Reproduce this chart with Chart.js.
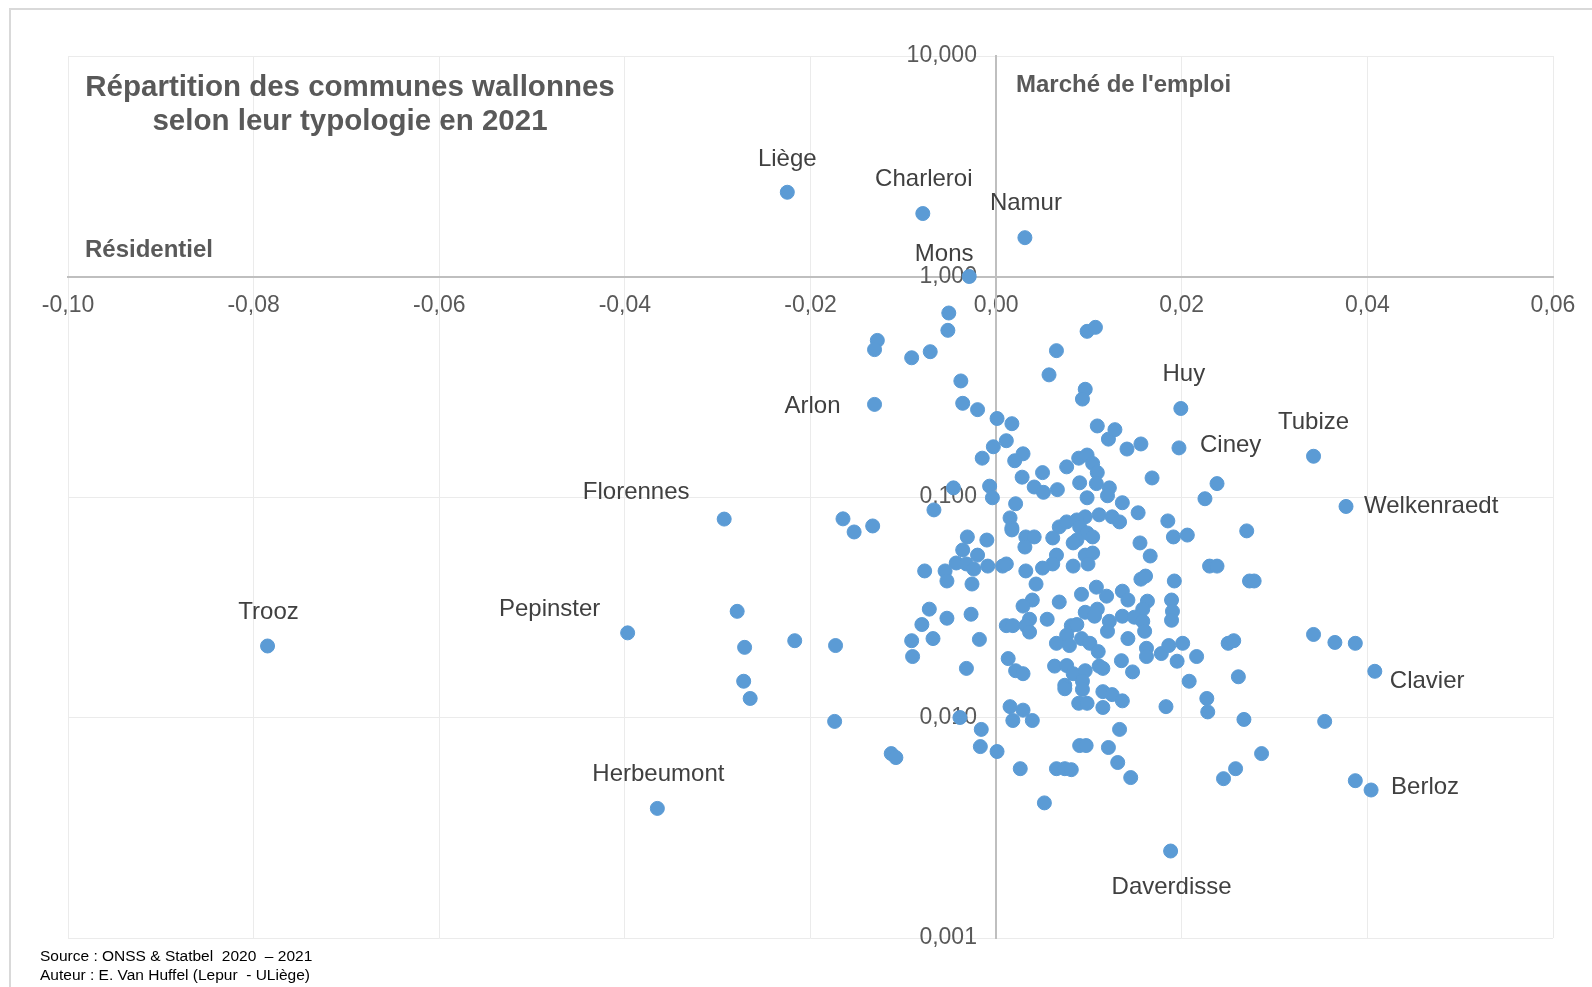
<!DOCTYPE html>
<html lang="fr">
<head>
<meta charset="utf-8">
<title>Répartition des communes wallonnes</title>
<script src="https://cdn.jsdelivr.net/npm/chart.js@4.4.1/dist/chart.umd.min.js"></script>
<style>
  html, body { margin: 0; padding: 0; background: #fff; }
  #wrap { position: relative; width: 1592px; height: 987px; }
</style>
</head>
<body>
<div id="wrap"><canvas id="chart-area"></canvas></div>
<script>
// communes nommées sur le graphique
var villes = ['Liège', 'Charleroi', 'Namur', 'Mons', 'Arlon', 'Huy', 'Ciney', 'Tubize',
    'Welkenraedt', 'Florennes', 'Trooz', 'Pepinster', 'Clavier', 'Berloz', 'Herbeumont', 'Daverdisse'];
var villesX = [-0.0225, -0.0079, 0.0031, -0.0029, -0.0131, 0.0199, 0.0197, 0.0342,
    0.0377, -0.0293, -0.0785, -0.0397, 0.0408, 0.0404, -0.0365, 0.0188];
var villesY = [2.41, 1.93, 1.50, 1.00, 0.263, 0.252, 0.167, 0.153,
    0.0906, 0.0794, 0.0211, 0.0242, 0.0162, 0.00469, 0.00387, 0.00248];

// autres communes
var autresX = [
    -0.0051, -0.0052, -0.0128, -0.0131, -0.0091, -0.0071, -0.0038, -0.0036, -0.0020, 0.0065,
    0.0098, 0.0107, 0.0057, 0.0096, 0.0093, 0.0001, 0.0017, 0.0109, 0.0121, 0.0128,
    0.0141, 0.0156, -0.0003, 0.0011, -0.0015, 0.0029, 0.0020, 0.0076, 0.0089, 0.0098, 0.0104,
    0.0168, 0.0238, 0.0225, 0.0028, 0.0050, 0.0041, 0.0051, 0.0066, 0.0090, 0.0109,
    0.0108, 0.0122, 0.0098, 0.0120, 0.0136, 0.0153, 0.0096, 0.0111, 0.0125, 0.0133,
    -0.0046, -0.0007, -0.0004, -0.0067, 0.0021, 0.0015, 0.0017, 0.0185, 0.0270, -0.0165,
    -0.0153, -0.0133, 0.0068, 0.0076, 0.0087, 0.0090,
    0.0098, 0.0087, 0.0104, 0.0083, 0.0061, 0.0065, 0.0061, 0.0083, 0.0096, 0.0104,
    0.0099, 0.0155, 0.0166, 0.0191, 0.0206, 0.0230, 0.0238, 0.0273, 0.0278, 0.0192,
    0.0156, 0.0161, -0.0031, -0.0010, -0.0036, -0.0020, -0.0043, -0.0032, -0.0024, -0.0009,
    0.0007, 0.0011, -0.0077, -0.0055, -0.0053, -0.0026, 0.0017, 0.0032, 0.0041, 0.0031,
    0.0032, 0.0050, 0.0043,
    0.0039, 0.0029, 0.0036, 0.0032, 0.0036, 0.0011, 0.0018, 0.0055, 0.0068, 0.0092,
    0.0096, 0.0081, 0.0087, 0.0076, 0.0065, 0.0079, 0.0092, 0.0101, 0.0110, 0.0063,
    0.0076, 0.0083, 0.0096, 0.0074, 0.0093, 0.0111, 0.0115, 0.0013, 0.0021, 0.0029,
    -0.0072, -0.0080, -0.0091, -0.0090, -0.0068, -0.0053, -0.0027, -0.0018, -0.0032, 0.0189,
    0.0190, 0.0189, 0.0136, 0.0142, 0.0163, 0.0158, 0.0136, 0.0149, 0.0158, 0.0160,
    0.0108, 0.0119, 0.0109, 0.0106, 0.0122, 0.0120, 0.0142, 0.0162, 0.0162, 0.0178,
    0.0186, 0.0201, 0.0195, 0.0216, 0.0250, 0.0256, 0.0135, 0.0147, 0.0208, 0.0261,
    0.0342, 0.0365, 0.0387, -0.0173, -0.0217, -0.0279, -0.0271, -0.0272,
    0.0093, 0.0074, 0.0115, 0.0125, 0.0136, 0.0089, 0.0098, 0.0115, 0.0183, 0.0227,
    0.0228, 0.0267, 0.0133, 0.0090, 0.0097, 0.0121, 0.0131, 0.0145, 0.0286, 0.0258,
    0.0245, 0.0015, 0.0029, 0.0018, 0.0039, -0.0039, -0.0016, -0.0017, 0.0001, -0.0113,
    -0.0108, 0.0026, 0.0065, 0.0074, 0.0081, 0.0052, 0.0354, 0.0387, -0.0265, -0.0174
];
var autresY = [
    0.683, 0.570, 0.513, 0.466, 0.428, 0.456, 0.336, 0.266, 0.249, 0.461,
    0.564, 0.588, 0.358, 0.308, 0.278, 0.227, 0.215, 0.210, 0.183, 0.202,
    0.165, 0.174, 0.169, 0.180, 0.150, 0.157, 0.146, 0.137, 0.150, 0.155, 0.142,
    0.122, 0.115, 0.0982, 0.123, 0.129, 0.111, 0.105, 0.108, 0.116, 0.129,
    0.115, 0.110, 0.0992, 0.1013, 0.0942, 0.0848, 0.0813, 0.0830, 0.0813, 0.0771,
    0.110, 0.112, 0.0992, 0.0874, 0.0932, 0.0804, 0.0724, 0.0779, 0.0702, 0.0796,
    0.0694, 0.0739, 0.0732, 0.0771, 0.0787, 0.0732,
    0.0687, 0.0638, 0.0659, 0.0619, 0.0652, 0.0545, 0.0497, 0.0486, 0.0545, 0.0557,
    0.0497, 0.0619, 0.0540, 0.0659, 0.0672, 0.0486, 0.0486, 0.0416, 0.0416, 0.0416,
    0.0424, 0.0438, 0.0659, 0.0638, 0.0575, 0.0545, 0.0502, 0.0497, 0.0471, 0.0486,
    0.0486, 0.0497, 0.0462, 0.0462, 0.0416, 0.0403, 0.0709, 0.0659, 0.0659, 0.0593,
    0.0462, 0.0476, 0.0403,
    0.0341, 0.0320, 0.0279, 0.0261, 0.0244, 0.0261, 0.0261, 0.0279, 0.0334, 0.0362,
    0.0300, 0.0261, 0.0264, 0.0236, 0.0217, 0.0212, 0.0228, 0.0217, 0.0199, 0.0171,
    0.0172, 0.0158, 0.0163, 0.0140, 0.0146, 0.0171, 0.0167, 0.0185, 0.0163, 0.0158,
    0.0310, 0.0264, 0.0223, 0.0189, 0.0228, 0.0282, 0.0294, 0.0226, 0.0167, 0.0341,
    0.0303, 0.0276, 0.0374, 0.0341, 0.0337, 0.0310, 0.0288, 0.0285, 0.0273, 0.0246,
    0.0390, 0.0355, 0.0310, 0.0288, 0.0273, 0.0246, 0.0228, 0.0206, 0.0189, 0.0195,
    0.0212, 0.0217, 0.0180, 0.0189, 0.0217, 0.0223, 0.0181, 0.0161, 0.0146, 0.0153,
    0.0238, 0.0219, 0.0217, 0.0212, 0.0223, 0.0303, 0.0208, 0.0146,
    0.0134, 0.0135, 0.0131, 0.0127, 0.0119, 0.0116, 0.0116, 0.0111, 0.0112, 0.0122,
    0.0106, 0.0098, 0.00883, 0.00746, 0.00746, 0.00731, 0.00625, 0.00534, 0.00686, 0.00586,
    0.00528, 0.0112, 0.0108, 0.00969, 0.00969, 0.0100, 0.00883, 0.00738, 0.00701, 0.00686,
    0.00658, 0.00586, 0.00586, 0.00586, 0.00580, 0.00410, 0.0096, 0.00517, 0.0122, 0.0096
];

var xTicks = [-0.10, -0.08, -0.06, -0.04, -0.02, 0, 0.02, 0.04, 0.06];
var yTicks = [0.001, 0.01, 0.1, 1, 10];

// position des étiquettes par rapport au point : [dx, dy, alignement]
var labelOffsets = {
    'Liège': [0, -33, 'center'], 'Charleroi': [1, -34, 'center'], 'Namur': [1, -34, 'center'],
    'Mons': [-25, -22, 'center'], 'Arlon': [-34, 2, 'right'], 'Huy': [3, -34, 'center'],
    'Ciney': [21, -3, 'left'], 'Tubize': [0, -34, 'center'], 'Welkenraedt': [18, 0, 'left'],
    'Florennes': [-88, -27, 'center'], 'Trooz': [1, -34, 'center'], 'Pepinster': [-78, -23, 'center'],
    'Clavier': [15, 10, 'left'], 'Berloz': [20, -3, 'left'], 'Herbeumont': [1, -34, 'center'],
    'Daverdisse': [1, 36, 'center']
};

var police = '"Liberation Sans", Arial, sans-serif';
var bleu = '#5b9bd5';

function points(xs, ys) {
    return xs.map(function (x, i) { return {x: x, y: ys[i]}; });
}

var annotations = {
    id: 'annotations',
    beforeDraw: function (chart) {
        var ctx = chart.ctx;
        ctx.save();
        ctx.fillStyle = '#fff';
        ctx.fillRect(0, 0, chart.width, chart.height);
        ctx.strokeStyle = '#d9d9d9';
        ctx.lineWidth = 2;
        ctx.strokeRect(10, 9, chart.width + 20, chart.height + 20);
        ctx.restore();
    },
    afterDatasetsDraw: function (chart) {
        var ctx = chart.ctx;
        var meta = chart.getDatasetMeta(0);
        ctx.save();
        ctx.textBaseline = 'middle';
        ctx.font = '24px ' + police;
        ctx.fillStyle = '#404040';
        meta.data.forEach(function (pt, i) {
            var o = labelOffsets[villes[i]];
            ctx.textAlign = o[2];
            ctx.fillText(villes[i], pt.x + o[0], pt.y + o[1]);
        });

        ctx.fillStyle = '#595959';
        ctx.textAlign = 'center';
        ctx.font = 'bold 29.5px ' + police;
        ctx.fillText('Répartition des communes wallonnes', 350, 88);
        ctx.fillText('selon leur typologie en 2021', 350, 122);

        ctx.textAlign = 'left';
        ctx.font = 'bold 24px ' + police;
        ctx.fillText('Résidentiel', 85, 250);
        ctx.fillText("Marché de l'emploi", 1016, 85);

        ctx.fillStyle = '#000';
        ctx.font = '15.5px ' + police;
        ctx.fillText('Source : ONSS & Statbel  2020  – 2021', 40, 957);
        ctx.fillText('Auteur : E. Van Huffel (Lepur  - ULiège)', 40, 976);
        ctx.restore();
    }
};

var config = {
    type: 'scatter',
    data: {
        datasets: [{
            label: 'Communes nommées',
            data: points(villesX, villesY),
            backgroundColor: bleu,
            borderColor: bleu,
            borderWidth: 1,
            pointRadius: 7
        }, {
            label: 'Autres communes',
            data: points(autresX, autresY),
            backgroundColor: bleu,
            borderColor: bleu,
            borderWidth: 1,
            pointRadius: 7
        }]
    },
    options: {
        responsive: true,
        maintainAspectRatio: false,
        animation: false,
        layout: {padding: {left: 68, right: 39, top: 56, bottom: 49}},
        plugins: {
            legend: {display: false},
            tooltip: {enabled: false}
        },
        scales: {
            x: {
                type: 'linear',
                min: -0.1,
                max: 0.06,
                position: {y: 1},
                afterBuildTicks: function (s) {
                    s.ticks = xTicks.map(function (v) { return {value: v}; });
                },
                grid: {color: '#ebebeb', lineWidth: 1, drawTicks: false},
                border: {color: '#bfbfbf', width: 2},
                ticks: {
                    autoSkip: false,
                    maxRotation: 0,
                    padding: 15,
                    color: '#595959',
                    font: {family: police, size: 23},
                    callback: function (v) {
                        if (Math.abs(v) < 1e-9) v = 0;
                        return v.toFixed(2).replace('.', ',');
                    }
                }
            },
            y: {
                type: 'logarithmic',
                min: 0.001,
                max: 10,
                position: {x: 0},
                afterBuildTicks: function (s) {
                    s.ticks = yTicks.map(function (v) { return {value: v}; });
                },
                grid: {color: '#ebebeb', lineWidth: 1, drawTicks: false},
                border: {color: '#bfbfbf', width: 2},
                ticks: {
                    autoSkip: false,
                    padding: 20,
                    color: '#595959',
                    font: {family: police, size: 23},
                    callback: function (v) {
                        // espace après le libellé pour l'écarter de l'axe
                        return Number(v).toFixed(3).replace('.', ',') + '   ';
                    }
                }
            }
        }
    },
    plugins: [annotations]
};

window.onload = function () {
    var ctx = document.getElementById('chart-area').getContext('2d');
    window.myScatter = new Chart(ctx, config);
};
</script>
</body>
</html>
